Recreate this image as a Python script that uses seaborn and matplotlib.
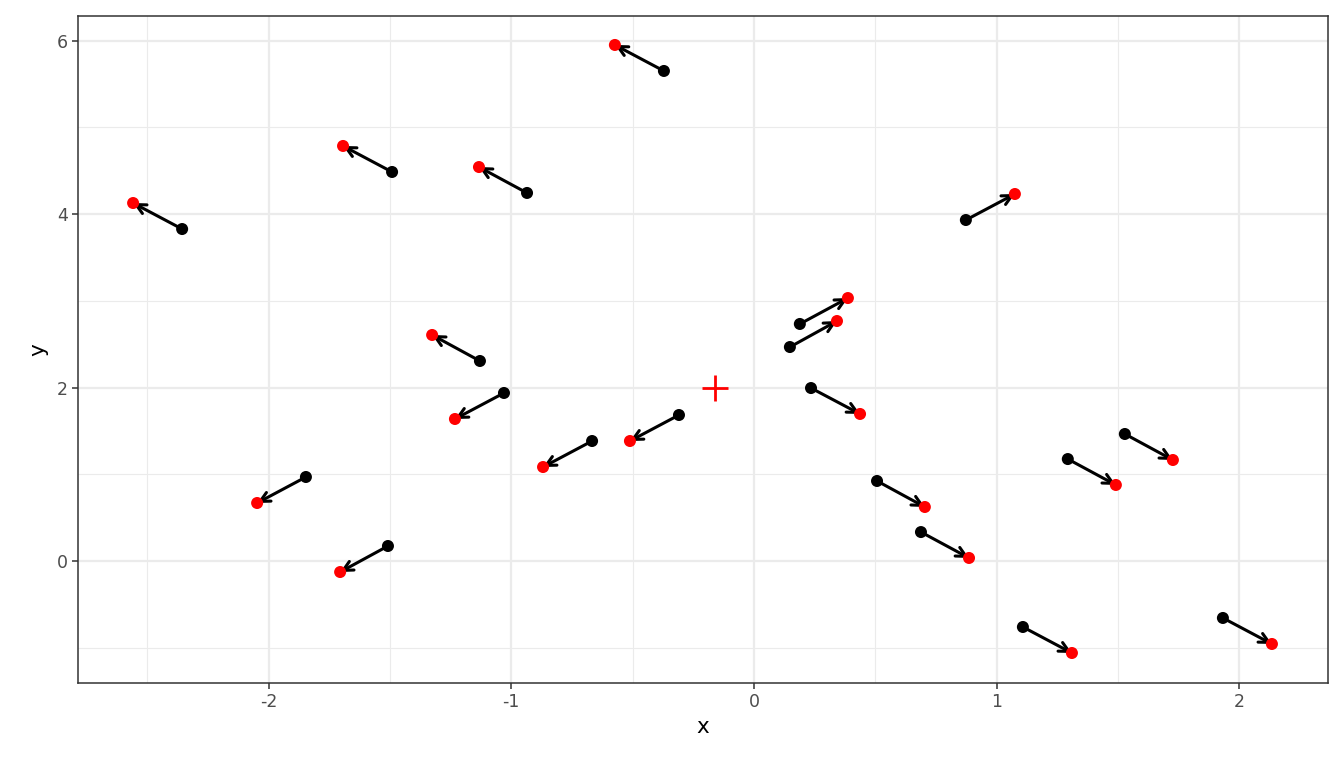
import matplotlib
matplotlib.use("Agg")
import matplotlib.pyplot as plt
import seaborn as sns
import pandas as pd
import numpy as np
from matplotlib.ticker import MultipleLocator

x_start = [-0.371, -1.491, -0.935, -2.356, 0.873, 0.189, 0.148, -1.129, -1.030, 0.235,
           -0.309, -0.667, -1.846, -1.508, 0.507, 0.688, 1.293, 1.528, 1.108, 1.932]
y_start = [5.652, 4.487, 4.245, 3.829, 3.933, 2.734, 2.468, 2.307, 1.938, 1.995,
           1.684, 1.384, 0.969, 0.173, 0.923, 0.334, 1.176, 1.465, -0.761, -0.657]
x_end = [-0.573, -1.693, -1.133, -2.558, 1.075, 0.387, 0.342, -1.326, -1.232, 0.437,
         -0.511, -0.869, -2.047, -1.705, 0.704, 0.886, 1.491, 1.726, 1.310, 2.134]
y_end = [5.952, 4.787, 4.544, 4.129, 4.233, 3.033, 2.768, 2.607, 1.638, 1.696,
         1.384, 1.084, 0.669, -0.127, 0.623, 0.035, 0.877, 1.165, -1.061, -0.957]
center_x = [-0.16]
center_y = [2.0]

sns.set_style("white")
plt.rcParams['font.family'] = ['DejaVu Sans']

fig = plt.figure(figsize=(13.44, 7.68), dpi=100)
ax = fig.add_axes([78/1344, 85/768, 1250/1344, 667/768])

ax.set_xlim(-2.785, 2.365)
ax.set_ylim(-1.407, 6.286)

ax.xaxis.set_major_locator(MultipleLocator(1))
ax.xaxis.set_minor_locator(MultipleLocator(0.5))
ax.yaxis.set_major_locator(MultipleLocator(2))
ax.yaxis.set_minor_locator(MultipleLocator(1))
ax.grid(which='major', color='#EBEBEB', linewidth=1.6, zorder=0)
ax.grid(which='minor', color='#EBEBEB', linewidth=0.8, zorder=0)
ax.set_axisbelow(True)

df_s = pd.DataFrame({'x': x_start, 'y': y_start})
df_e = pd.DataFrame({'x': x_end, 'y': y_end})

for xs, ys, xe, ye in zip(x_start, y_start, x_end, y_end):
    ax.annotate('', xy=(xe, ye), xytext=(xs, ys),
                arrowprops=dict(arrowstyle='->,head_length=0.7,head_width=0.35',
                                color='black', lw=2.2, shrinkA=0, shrinkB=0),
                zorder=2)

sns.scatterplot(data=df_s, x='x', y='y', color='black', s=75, edgecolor='none', ax=ax, zorder=3)
sns.scatterplot(data=df_e, x='x', y='y', color='red', s=75, edgecolor='none', ax=ax, zorder=3)
ax.scatter(center_x, center_y, marker='+', color='red', s=330, linewidths=2, zorder=3)

for sp in ax.spines.values():
    sp.set_color('#333333')
    sp.set_linewidth(1.1)

ax.tick_params(which='major', bottom=True, left=True, direction='out',
               length=4.5, width=1.1, color='#333333',
               labelsize=12.5, labelcolor='#4D4D4D', pad=3)
ax.tick_params(which='minor', length=0)
ax.set_xticks([-2, -1, 0, 1, 2])
ax.set_xticklabels(['-2', '-1', '0', '1', '2'])
ax.set_yticks([0, 2, 4, 6])
ax.set_yticklabels(['0', '2', '4', '6'])
ax.set_xlabel('x', fontsize=15.5, color='black', labelpad=4)
ax.set_ylabel('y', fontsize=15.5, color='black', labelpad=6)

fig.savefig('out.png', dpi=100)
